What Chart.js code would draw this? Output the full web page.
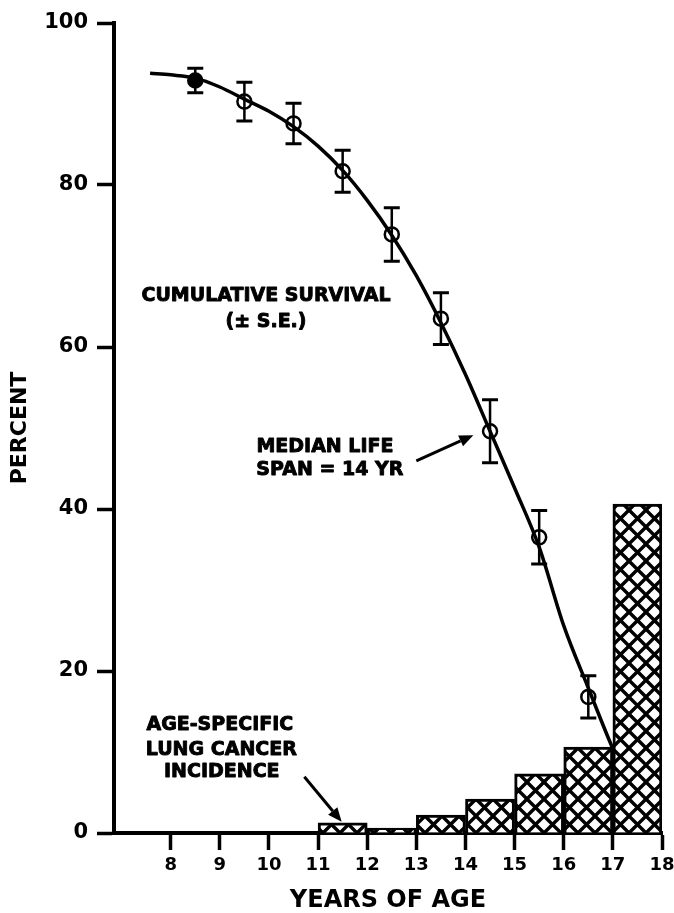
<!DOCTYPE html>
<html>
<head>
<meta charset="utf-8">
<title>Cumulative survival and lung cancer incidence</title>
<script src="https://cdn.jsdelivr.net/npm/chart.js@4.4.1/dist/chart.umd.min.js"></script>
<style>
    html, body { margin: 0; padding: 0; background: #fff; }
    canvas { display: block; }
</style>
</head>
<body>
<canvas id="grafico" width="674" height="913"></canvas>
<script>
// Survival points (open circles, ± S.E.)
const survivalAge = [8.5, 9.5, 10.5, 11.5, 12.5, 13.5, 14.5, 15.5, 16.5, 17.5];
const survivalPct = [92.9, 90.3, 87.6, 81.7, 73.9, 63.5, 49.6, 36.5, 16.8, 6.3];
const survivalSE = [1.5, 2.4, 2.5, 2.6, 3.3, 3.2, 3.9, 3.3, 2.6, 2.0];

// Fitted survival curve
const curveAge = [7.58, 8.0, 8.5, 9.0, 9.5, 10.0, 10.5, 11.0, 11.5, 12.0, 12.5, 13.0, 13.5, 14.0, 14.5, 15.0, 15.5, 16.0, 16.5, 17.0, 17.5, 17.8];
const curvePct = [93.8, 93.6, 93.2, 92.1, 90.6, 89.1, 87.2, 84.8, 81.8, 78.1, 73.8, 68.8, 63.0, 56.6, 49.6, 42.6, 35.3, 25.6, 17.9, 10.4, 3.9, 0.6];

// Age-specific lung cancer incidence, one bar per year of age
const incidenceAge = [11.5, 12.5, 13.5, 14.5, 15.5, 16.5, 17.5];
const incidencePct = [1.25, 0.6, 2.2, 4.2, 7.3, 10.6, 40.6];

const ageTicks = [8, 9, 10, 11, 12, 13, 14, 15, 16, 17, 18];
const percentTicks = [0, 20, 40, 60, 80, 100];

// Text notes and arrows, placed in data units
const notes = [
    { text: 'CUMULATIVE SURVIVAL', x: 9.94, y: 66.3 },
    { text: '(± S.E.)', x: 9.94, y: 63.1 },
    { text: 'MEDIAN LIFE', x: 11.14, y: 47.6 },
    { text: 'SPAN = 14 YR', x: 11.24, y: 44.8 },
    { text: 'AGE-SPECIFIC', x: 9.0, y: 13.3 },
    { text: 'LUNG CANCER', x: 9.03, y: 10.2 },
    { text: 'INCIDENCE', x: 9.04, y: 7.5 }
];
const arrows = [
    { from: [13.0, 45.95], to: [14.16, 49.12] },
    { from: [10.72, 6.95], to: [11.48, 1.39] }
];

function crossHatch() {
    const s = 17;
    const c = document.createElement('canvas');
    c.width = s;
    c.height = s;
    const g = c.getContext('2d');
    g.fillStyle = '#fff';
    g.fillRect(0, 0, s, s);
    g.strokeStyle = '#000';
    g.lineWidth = 3.4;
    g.beginPath();
    [-s, 0, s].forEach(k => {
        g.moveTo(k - 2, -2);
        g.lineTo(k + s + 2, s + 2);
        g.moveTo(k - 2, s + 2);
        g.lineTo(k + s + 2, -2);
    });
    g.stroke();
    return g.createPattern(c, 'repeat');
}

const errorBars = {
    id: 'errorBars',
    afterDatasetDraw(chart, args) {
        if (chart.data.datasets[args.index].label !== 'survival') return;
        const { ctx, scales: { x, y } } = chart;
        ctx.save();
        ctx.strokeStyle = '#000';
        survivalAge.forEach((age, i) => {
            const px = x.getPixelForValue(age);
            const top = y.getPixelForValue(survivalPct[i] + survivalSE[i]);
            const bot = y.getPixelForValue(survivalPct[i] - survivalSE[i]);
            ctx.lineWidth = 2.5;
            ctx.beginPath();
            ctx.moveTo(px, top);
            ctx.lineTo(px, bot);
            ctx.stroke();
            ctx.lineWidth = 3;
            ctx.beginPath();
            ctx.moveTo(px - 8, top);
            ctx.lineTo(px + 8, top);
            ctx.moveTo(px - 8, bot);
            ctx.lineTo(px + 8, bot);
            ctx.stroke();
        });
        ctx.restore();
    }
};

const notesPlugin = {
    id: 'notes',
    afterDraw(chart) {
        const { ctx, scales: { x, y } } = chart;
        ctx.save();
        ctx.fillStyle = '#000';
        ctx.strokeStyle = '#000';
        ctx.font = 'bold 19px "DejaVu Sans"';
        ctx.textAlign = 'center';
        ctx.textBaseline = 'middle';
        ctx.lineWidth = 0.9;
        ctx.lineJoin = 'round';
        notes.forEach(n => {
            const px = x.getPixelForValue(n.x);
            const py = y.getPixelForValue(n.y);
            ctx.fillText(n.text, px, py);
            ctx.strokeText(n.text, px, py);
        });
        arrows.forEach(a => {
            const x0 = x.getPixelForValue(a.from[0]);
            const y0 = y.getPixelForValue(a.from[1]);
            const x1 = x.getPixelForValue(a.to[0]);
            const y1 = y.getPixelForValue(a.to[1]);
            const ang = Math.atan2(y1 - y0, x1 - x0);
            const len = 14;
            const bx = x1 - len * Math.cos(ang);
            const by = y1 - len * Math.sin(ang);
            ctx.lineWidth = 3;
            ctx.beginPath();
            ctx.moveTo(x0, y0);
            ctx.lineTo(bx, by);
            ctx.stroke();
            ctx.beginPath();
            ctx.moveTo(x1, y1);
            ctx.lineTo(bx + 6 * Math.sin(ang), by - 6 * Math.cos(ang));
            ctx.lineTo(bx - 6 * Math.sin(ang), by + 6 * Math.cos(ang));
            ctx.closePath();
            ctx.fill();
        });
        ctx.restore();
    }
};

document.addEventListener('DOMContentLoaded', function() {
    Chart.defaults.font.family = '"DejaVu Sans", "Liberation Sans", sans-serif';
    Chart.defaults.color = '#000';

    const ctx = document.getElementById('grafico').getContext('2d');
    new Chart(ctx, {
        type: 'scatter',
        data: {
            datasets: [{
                type: 'bar',
                label: 'incidence',
                data: incidenceAge.map((a, i) => ({ x: a, y: incidencePct[i] })),
                backgroundColor: crossHatch(),
                borderColor: '#000',
                borderWidth: 3,
                barPercentage: 1,
                categoryPercentage: 1,
                order: 0
            }, {
                type: 'line',
                label: 'survival',
                data: survivalAge.map((a, i) => ({ x: a, y: survivalPct[i] })),
                showLine: false,
                pointRadius: 7,
                pointBorderWidth: 2.5,
                pointBorderColor: '#000',
                pointBackgroundColor: c => c.dataIndex === 0 ? '#000' : 'rgba(0,0,0,0)',
                order: 1
            }, {
                type: 'line',
                label: 'curve',
                data: curveAge.map((a, i) => ({ x: a, y: curvePct[i] })),
                borderColor: '#000',
                borderWidth: 3.5,
                pointRadius: 0,
                fill: false,
                cubicInterpolationMode: 'monotone',
                order: 2
            }]
        },
        options: {
            responsive: false,
            animation: false,
            devicePixelRatio: 1,
            layout: { padding: { top: 23, right: 12, bottom: 0, left: 0 } },
            plugins: {
                legend: { display: false },
                tooltip: { enabled: false }
            },
            scales: {
                x: {
                    type: 'linear',
                    min: 6.846,
                    max: 18,
                    offset: false,
                    afterBuildTicks: s => { s.ticks = ageTicks.map(v => ({ value: v })); },
                    afterFit: s => { s.height = 80; s.paddingLeft = 0; s.paddingRight = 0; },
                    grid: { offset: false, drawOnChartArea: false, drawTicks: true, tickLength: 17, tickWidth: 3.5, tickColor: '#000' },
                    border: { color: '#000', width: 4 },
                    ticks: { color: '#000', font: { size: 18, weight: 'bold' }, padding: 5, maxRotation: 0, autoSkip: false },
                    title: {
                        display: true,
                        text: 'YEARS OF AGE',
                        color: '#000',
                        font: { size: 24, weight: 'bold', lineHeight: 1 },
                        padding: { top: 0, bottom: 0 }
                    }
                },
                y: {
                    type: 'linear',
                    min: 0,
                    max: 100,
                    afterBuildTicks: s => { s.ticks = percentTicks.map(v => ({ value: v })); },
                    afterFit: s => { s.width = 114; },
                    grid: { drawOnChartArea: false, drawTicks: true, tickLength: 17, tickWidth: 3.5, tickColor: '#000' },
                    border: { color: '#000', width: 4 },
                    ticks: { color: '#000', font: { size: 21, weight: 'bold' }, padding: 9 },
                    title: {
                        display: true,
                        text: 'PERCENT',
                        color: '#000',
                        font: { size: 22, weight: 'bold', lineHeight: 1 },
                        padding: { top: 9, bottom: 0 }
                    }
                }
            }
        },
        plugins: [errorBars, notesPlugin]
    });
});
</script>
</body>
</html>
